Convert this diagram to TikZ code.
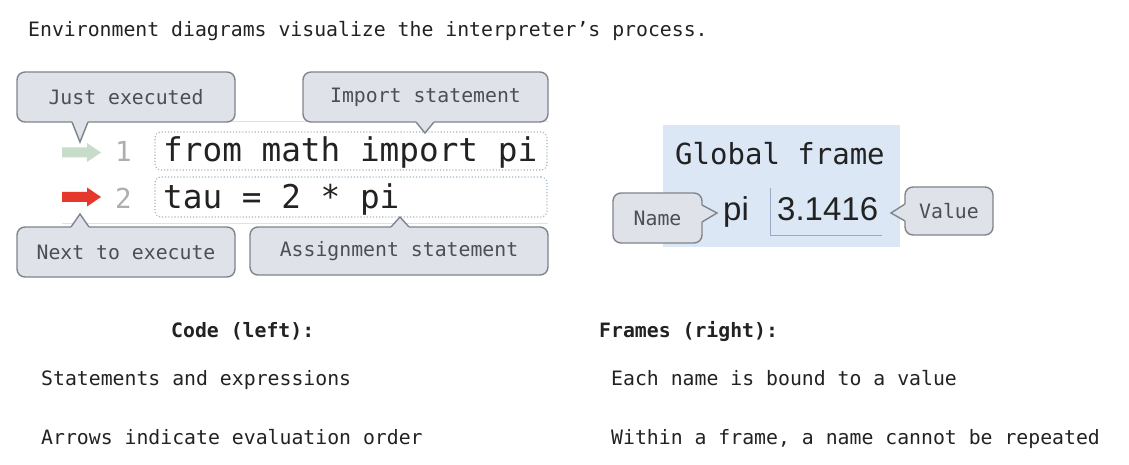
\documentclass[tikz,border=0pt]{standalone}
\usepackage{fontspec}
\setmonofont{DejaVu Sans Mono}
\setsansfont{Liberation Sans}
\usetikzlibrary{calc}
\definecolor{cfillc}{HTML}{DFE2E8}
\definecolor{cborderc}{HTML}{7F858C}
\definecolor{ctextc}{HTML}{4A4F55}
\definecolor{bodyc}{HTML}{222222}
\definecolor{codeboxc}{HTML}{9DB6C6}
\definecolor{framec}{HTML}{DCE7F6}
\definecolor{valc}{HTML}{9AAAC2}
\definecolor{greenarr}{HTML}{C8DCCA}
\definecolor{redarr}{HTML}{E5372B}
\definecolor{linenoc}{HTML}{AEAEAE}
\definecolor{faintc}{HTML}{E2E2E2}
\newcommand{\calloutptr}[4]{%
  \fill[cfillc] ($#1+#4$) -- #1 -- #3 -- #2 -- ($#2+#4$) -- cycle;
  \draw[cborderc, line width=1.4pt, line join=miter] #1 -- #3 -- #2;}
\newcommand{\fatarrow}[3]{% x0, y centre, colour
  \fill[#3] (#1,#2-5) -- (#1+25,#2-5) -- (#1+25,#2-9.5) -- (#1+39,#2) -- (#1+25,#2+9.5) -- (#1+25,#2+5) -- (#1,#2+5) -- cycle;}
\begin{document}
\begin{tikzpicture}[x=1pt,y=-1pt,
  body/.style={inner sep=0pt, anchor=base west, text=bodyc, font=\ttfamily\fontsize{19.8}{24}\selectfont},
  bodybold/.style={body, font=\ttfamily\bfseries\fontsize{19.8}{24}\selectfont},
  callout/.style={draw=cborderc, fill=cfillc, line width=1.4pt, rounded corners=8pt, inner sep=0pt,
    text=ctextc, font=\ttfamily\fontsize{19.8}{24}\selectfont},
  codebox/.style={draw=codeboxc, dotted, line width=1.1pt, rounded corners=6pt},
  codetext/.style={inner sep=0pt, anchor=base west, text=bodyc, font=\ttfamily\fontsize{32.7}{36}\selectfont},
  lineno/.style={inner sep=0pt, anchor=base, text=linenoc, font=\ttfamily\fontsize{27.5}{30}\selectfont},
  framebox/.style={fill=framec, draw=none, inner sep=0pt, anchor=north west},
  valtext/.style={inner sep=0pt, anchor=base west, text=bodyc, font=\sffamily\fontsize{33}{36}\selectfont}]
\useasboundingbox (0,0) rectangle (1129,465);
\fill[white] (0,0) rectangle (1129,465);

% title
\node[body] (title) at (28,37) {Environment diagrams visualize the interpreter’s process.};

% faint rules
\coordinate (rtl) at (62,122);
\coordinate (rtr) at (548,122);
\coordinate (rbl) at (62,223);
\coordinate (rbr) at (548,223);
\draw[faintc, line width=1pt] (rtl) -- (rtr);
\draw[faintc, line width=1pt] (rbl) -- (rbr);

% code boxes
\node[codebox, minimum width=392pt, minimum height=38pt, inner sep=0pt] (box1) at (351,151) {};
\node[codebox, minimum width=392pt, minimum height=40pt, inner sep=0pt] (box2) at (351,197) {};
\node[codetext] (code1) at (163,162) {from math import pi};
\node[codetext] (code2) at (163,208) {tau = 2 * pi};

% line numbers
\node[lineno] (ln1) at (123.5,162) {1};
\node[lineno] (ln2) at (123.5,208) {2};

% arrows
\fatarrow{62}{152.5}{greenarr}
\fatarrow{62}{197}{redarr}

% callouts (left)
\node[callout, minimum width=218pt, minimum height=50pt] (just) at (126,97) {Just executed};
\calloutptr{(72,122)}{(88,122)}{(80,142)}{(0,-3)}
\node[callout, minimum width=245pt, minimum height=50pt] (import) at (425.5,97) {Import statement};
\calloutptr{(416,122)}{(434,122)}{(425,133)}{(0,-3)}
\node[callout, minimum width=218pt, minimum height=50pt] (next) at (126,252) {Next to execute};
\calloutptr{(71,227)}{(89,227)}{(80,214)}{(0,3)}
\node[callout, minimum width=298pt, minimum height=48pt] (assign) at (399,251) {Assignment statement};
\calloutptr{(391,227)}{(409,227)}{(400,217)}{(0,3)}

% global frame
\node[framebox, minimum width=237pt, minimum height=122pt] (frame) at (663,125) {};
\node[inner sep=0pt, anchor=base west, text=bodyc, font=\ttfamily\fontsize{29}{32}\selectfont] (gf) at (675,165) {Global frame};
\node[valtext] (piname) at (723,220) {pi};
\node[valtext] (pival) at (777,220) {3.1416};
\coordinate (vtop) at (770,188);
\coordinate (vcorner) at (770,235);
\coordinate (vend) at (882,235);
\draw[valc, line width=1pt] (vtop) -- (vcorner) -- (vend);

% callouts (right)
\node[callout, minimum width=89pt, minimum height=50pt] (name) at (657.5,218) {Name};
\calloutptr{(702,205)}{(702,222)}{(717,213)}{(-3,0)}
\node[callout, minimum width=88pt, minimum height=48pt] (value) at (949,211) {Value};
\calloutptr{(905,204)}{(905,221)}{(891,213)}{(3,0)}

% bottom text
\node[bodybold] (codeh) at (171,337) {Code (left):};
\node[bodybold] (frameh) at (599,337) {Frames (right):};
\node[body] (c1) at (41,385) {Statements and expressions};
\node[body] (c2) at (41,444) {Arrows indicate evaluation order};
\node[body] (f1) at (611,385) {Each name is bound to a value};
\node[body] (f2) at (611,444) {Within a frame, a name cannot be repeated};
\end{tikzpicture}
\end{document}
